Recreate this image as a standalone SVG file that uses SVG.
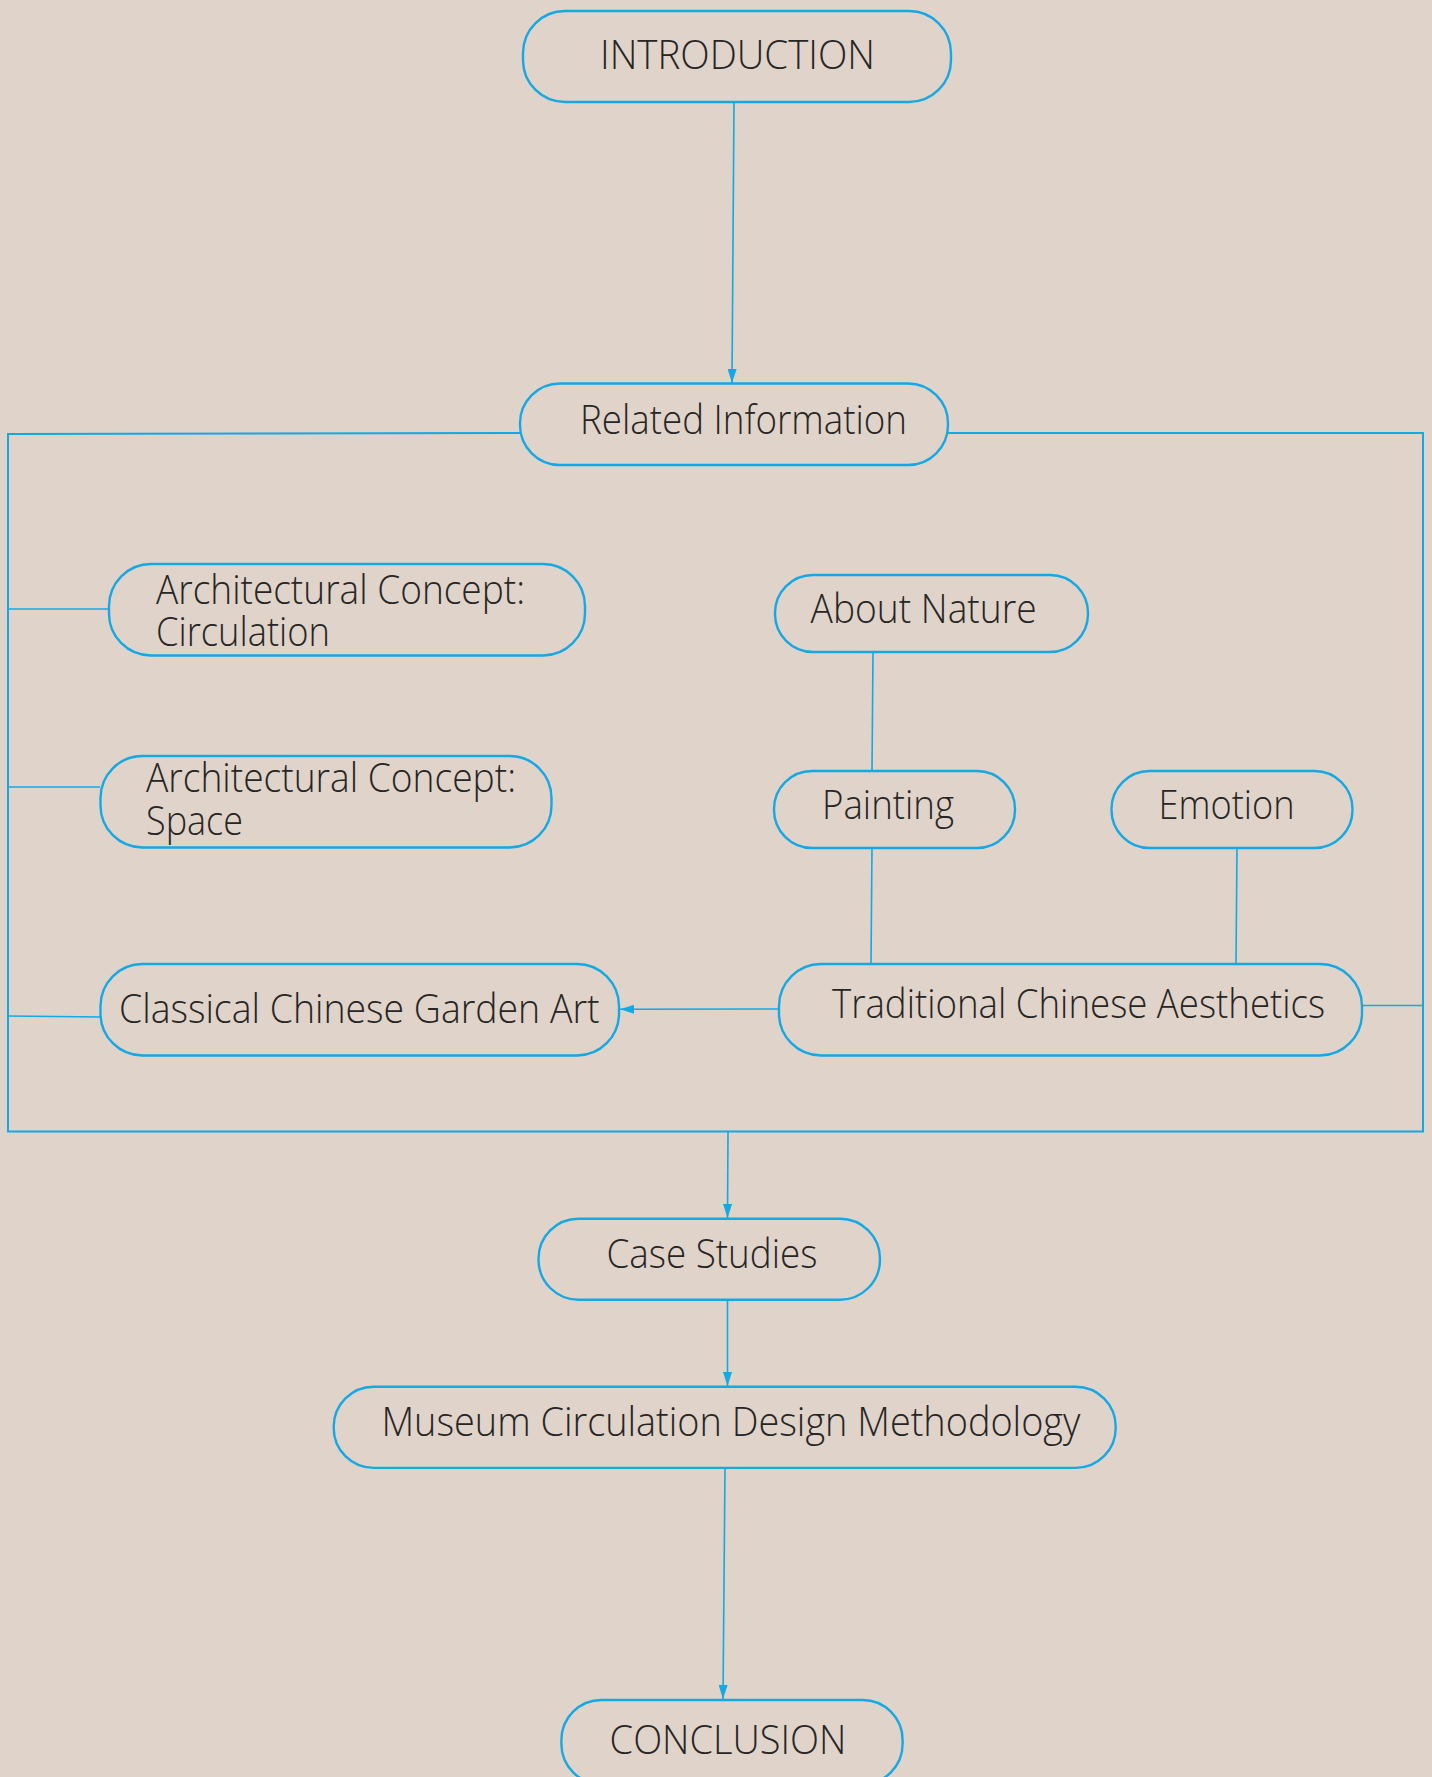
<svg xmlns="http://www.w3.org/2000/svg" width="1432" height="1777" viewBox="0 0 1432 1777">
<defs>
<style>
.box{fill:none;stroke:#14a8e4;stroke-width:2.4}
.ln{fill:none;stroke:#14a8e4;stroke-width:1.6}
.fr{fill:none;stroke:#14a8e4;stroke-width:2}
.t{font-family:"Open Sans","Segoe UI","Lato","Liberation Sans",sans-serif;font-weight:300;font-size:40px;fill:#262626}
</style>
<marker id="ah" viewBox="0 0 14 9" refX="14" refY="4.5" markerWidth="14" markerHeight="9" markerUnits="userSpaceOnUse" orient="auto">
<path d="M0,0 L14,4.5 L0,9 Z" fill="#14a8e4"/>
</marker>
</defs>
<rect width="1432" height="1777" fill="#e0d3c9"/>
<g id="connectors">
<line class="ln" x1="734" y1="102" x2="732" y2="383" marker-end="url(#ah)"/>
<polyline class="fr" points="521,433 8,434 8,1131.5 1423,1131.5 1423,433 947,433"/>
<line class="ln" x1="8" y1="609" x2="109" y2="609"/>
<line class="ln" x1="8" y1="787" x2="100" y2="787"/>
<line class="ln" x1="8" y1="1016" x2="101" y2="1017"/>
<line class="ln" x1="873" y1="652" x2="872" y2="771"/>
<line class="ln" x1="872" y1="848" x2="871" y2="964"/>
<line class="ln" x1="1237" y1="848" x2="1236" y2="964"/>
<line class="ln" x1="1362" y1="1005.5" x2="1423" y2="1005.5"/>
<line class="ln" x1="779" y1="1009" x2="620" y2="1009.3" marker-end="url(#ah)"/>
<line class="ln" x1="728" y1="1131.5" x2="727.5" y2="1218" marker-end="url(#ah)"/>
<line class="ln" x1="727.5" y1="1300" x2="727.5" y2="1386" marker-end="url(#ah)"/>
<line class="ln" x1="725" y1="1468" x2="723" y2="1699" marker-end="url(#ah)"/>
</g>
<g id="introduction">
<rect class="box" x="523" y="11" width="428" height="91" rx="42"/>
<text class="t" x="600" y="69" textLength="275" lengthAdjust="spacingAndGlyphs">INTRODUCTION</text>
</g>
<g id="related-information">
<rect class="box" x="520" y="383.5" width="428" height="81.5" rx="40"/>
<text class="t" x="580" y="434" textLength="327" lengthAdjust="spacingAndGlyphs">Related Information</text>
</g>
<g id="arch-circulation">
<rect class="box" x="109" y="564" width="476" height="91.5" rx="42"/>
<text class="t"><tspan x="156" y="603.5" textLength="369" lengthAdjust="spacingAndGlyphs">Architectural Concept:</tspan><tspan x="156" y="646" textLength="174" lengthAdjust="spacingAndGlyphs">Circulation</tspan></text>
</g>
<g id="arch-space">
<rect class="box" x="100.5" y="756" width="451" height="91.5" rx="42"/>
<text class="t"><tspan x="146" y="791.5" textLength="370" lengthAdjust="spacingAndGlyphs">Architectural Concept:</tspan><tspan x="146" y="835" textLength="97" lengthAdjust="spacingAndGlyphs">Space</tspan></text>
</g>
<g id="classical-garden">
<rect class="box" x="100.5" y="964" width="518.5" height="91.5" rx="42"/>
<text class="t" x="119" y="1022.7" textLength="480.5" lengthAdjust="spacingAndGlyphs">Classical Chinese Garden Art</text>
</g>
<g id="about-nature">
<rect class="box" x="775" y="575" width="313" height="77" rx="38"/>
<text class="t" x="810.6" y="623.3" textLength="226" lengthAdjust="spacingAndGlyphs">About Nature</text>
</g>
<g id="painting">
<rect class="box" x="774" y="771" width="241" height="77" rx="38"/>
<text class="t" x="822" y="819.3" textLength="132" lengthAdjust="spacingAndGlyphs">Painting</text>
</g>
<g id="emotion">
<rect class="box" x="1111.5" y="771" width="241" height="77" rx="38"/>
<text class="t" x="1158.6" y="819.3" textLength="136" lengthAdjust="spacingAndGlyphs">Emotion</text>
</g>
<g id="traditional-aesthetics">
<rect class="box" x="779" y="964" width="583" height="91.5" rx="42"/>
<text class="t" x="832" y="1018.3" textLength="493" lengthAdjust="spacingAndGlyphs">Traditional Chinese Aesthetics</text>
</g>
<g id="case-studies">
<rect class="box" x="538.5" y="1218.7" width="341.5" height="81" rx="40"/>
<text class="t" x="606.4" y="1268.4" textLength="211" lengthAdjust="spacingAndGlyphs">Case Studies</text>
</g>
<g id="museum-methodology">
<rect class="box" x="333.7" y="1386.7" width="782" height="81.2" rx="40"/>
<text class="t" x="381.4" y="1436" textLength="699" lengthAdjust="spacingAndGlyphs">Museum Circulation Design Methodology</text>
</g>
<g id="conclusion">
<rect class="box" x="561.4" y="1700" width="341.2" height="84" rx="40"/>
<text class="t" x="609.6" y="1754" textLength="236.7" lengthAdjust="spacingAndGlyphs">CONCLUSION</text>
</g>
</svg>
